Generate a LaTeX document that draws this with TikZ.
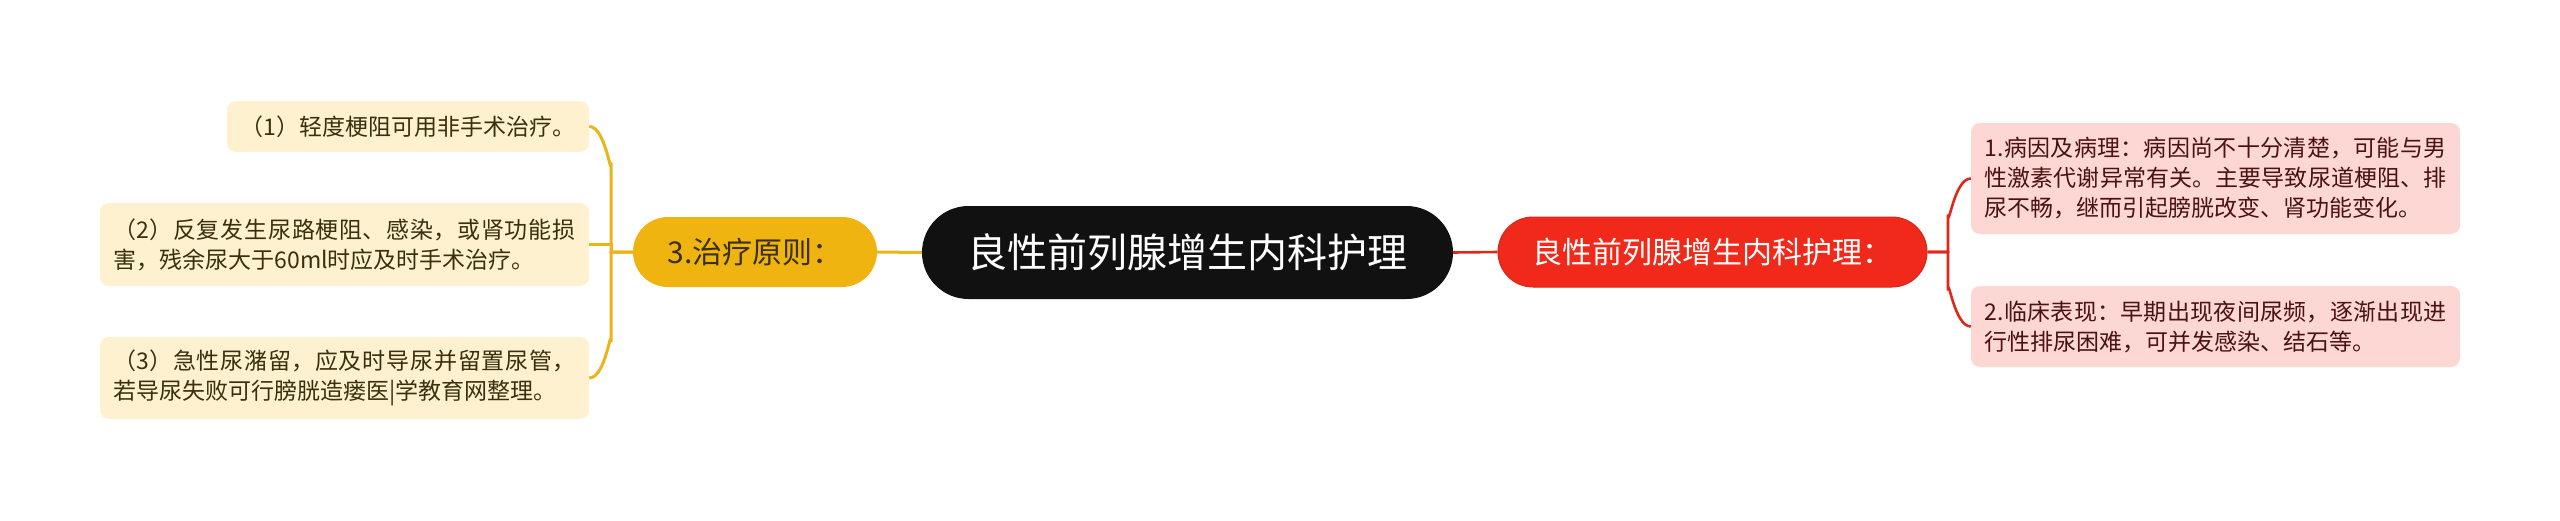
\documentclass[tikz,border=0pt]{standalone}
\usepackage{fontspec}
\setmainfont{Noto Sans CJK SC}
\usetikzlibrary{calc}
\XeTeXlinebreaklocale "zh"
\XeTeXlinebreakskip=0pt plus 4pt
\definecolor{orangeline}{HTML}{EBB41A}
\definecolor{orangefill}{HTML}{EFB40F}
\definecolor{redline}{HTML}{E0271B}
\definecolor{redfill}{HTML}{F0291A}
\definecolor{redborder}{HTML}{D8241A}
\definecolor{creamfill}{HTML}{FDF1D0}
\definecolor{pinkfill}{HTML}{FCD7D4}
\definecolor{creamtext}{HTML}{3A300C}
\definecolor{pinktext}{HTML}{4A1212}
\definecolor{centralfill}{HTML}{111111}
\tikzset{
  leafbase/.style={rectangle, rounded corners=9pt, inner xsep=13.5pt, inner ysep=0pt,
    align=justify, font=\fontsize{23pt}{30pt}\selectfont},
  leftleaf/.style={leafbase, fill=creamfill, text=creamtext},
  rightleaf/.style={leafbase, fill=pinkfill, text=pinktext},
  pill/.style={rectangle, inner sep=0pt, align=center},
  orangelink/.style={draw=orangeline, line width=3pt},
  redlink/.style={draw=redline, line width=2.6pt},
}
\begin{document}
\begin{tikzpicture}[x=1pt, y=-1pt]
\path[use as bounding box, fill=white] (0,0) rectangle (2560,520);

% central
\node[pill, fill=centralfill, text=white, rounded corners=46.5pt,
  minimum width=531pt, minimum height=93pt,
  font=\fontsize{40pt}{48pt}\selectfont] (c) at (1187.5,252.5) {良性前列腺增生内科护理};

% orange main branch
\node[pill, fill=orangefill, text=creamtext, rounded corners=35pt,
  minimum width=244pt, minimum height=70pt,
  font=\fontsize{30pt}{36pt}\selectfont] (o) at (755,252) {3.治疗原则：};

% red main branch
\node[pill, fill=redfill, draw=redborder, line width=1pt, text=white, rounded corners=35pt,
  minimum width=429pt, minimum height=70pt,
  font=\fontsize{30pt}{36pt}\selectfont] (r) at (1712.5,252) {良性前列腺增生内科护理：};

% left leaves
\node[leftleaf, text width=335pt, minimum height=51pt] (l1) at (408,126.5)
  {（1）轻度梗阻可用非手术治疗。};
\node[leftleaf, text width=462pt, minimum height=83pt] (l2) at (344.5,244.5)
  {（2）反复发生尿路梗阻、感染，或肾功能损\linebreak 害，残余尿大于60ml时应及时手术治疗。};
\node[leftleaf, text width=462pt, minimum height=82pt] (l3) at (344.5,378)
  {（3）急性尿潴留，应及时导尿并留置尿管，\linebreak 若导尿失败可行膀胱造瘘医|学教育网整理。};

% right leaves
\node[rightleaf, text width=462pt, minimum height=111pt] (r1) at (2215.5,178.5)
  {1.病因及病理：病因尚不十分清楚，可能与男\linebreak 性激素代谢异常有关。主要导致尿道梗阻、排\linebreak 尿不畅，继而引起膀胱改变、肾功能变化。};
\node[rightleaf, text width=462pt, minimum height=81pt] (r2) at (2215.5,326.5)
  {2.临床表现：早期出现夜间尿频，逐渐出现进\linebreak 行性排尿困难，可并发感染、结石等。};

% bracket coordinates
\coordinate (bl) at (611,252);
\coordinate (br) at (1948,252);

% connectors center
\draw[orangelink] (c.west) -- (o.east);
\draw[redlink] (c.east) -- (r.west);

% left bracket
\draw[orangelink] (o.west) -- (bl) -- ($(bl|-l1.east)+(0,36)$) to[out=-90,in=0] (l1.east);
\draw[orangelink] (o.west) -- (bl) -- ($(bl|-l3.east)+(0,-36)$) to[out=90,in=0] (l3.east);
\draw[orangelink] (bl) -- (bl|-l2.east) -- (l2.east);

% right bracket
\draw[redlink] (r.east) -- (br) -- ($(br|-r1.east)+(0,36)$) to[out=-90,in=180] (r1.west);
\draw[redlink] (r.east) -- (br) -- ($(br|-r2.east)+(0,-36)$) to[out=90,in=180] (r2.west);
\end{tikzpicture}
\end{document}
